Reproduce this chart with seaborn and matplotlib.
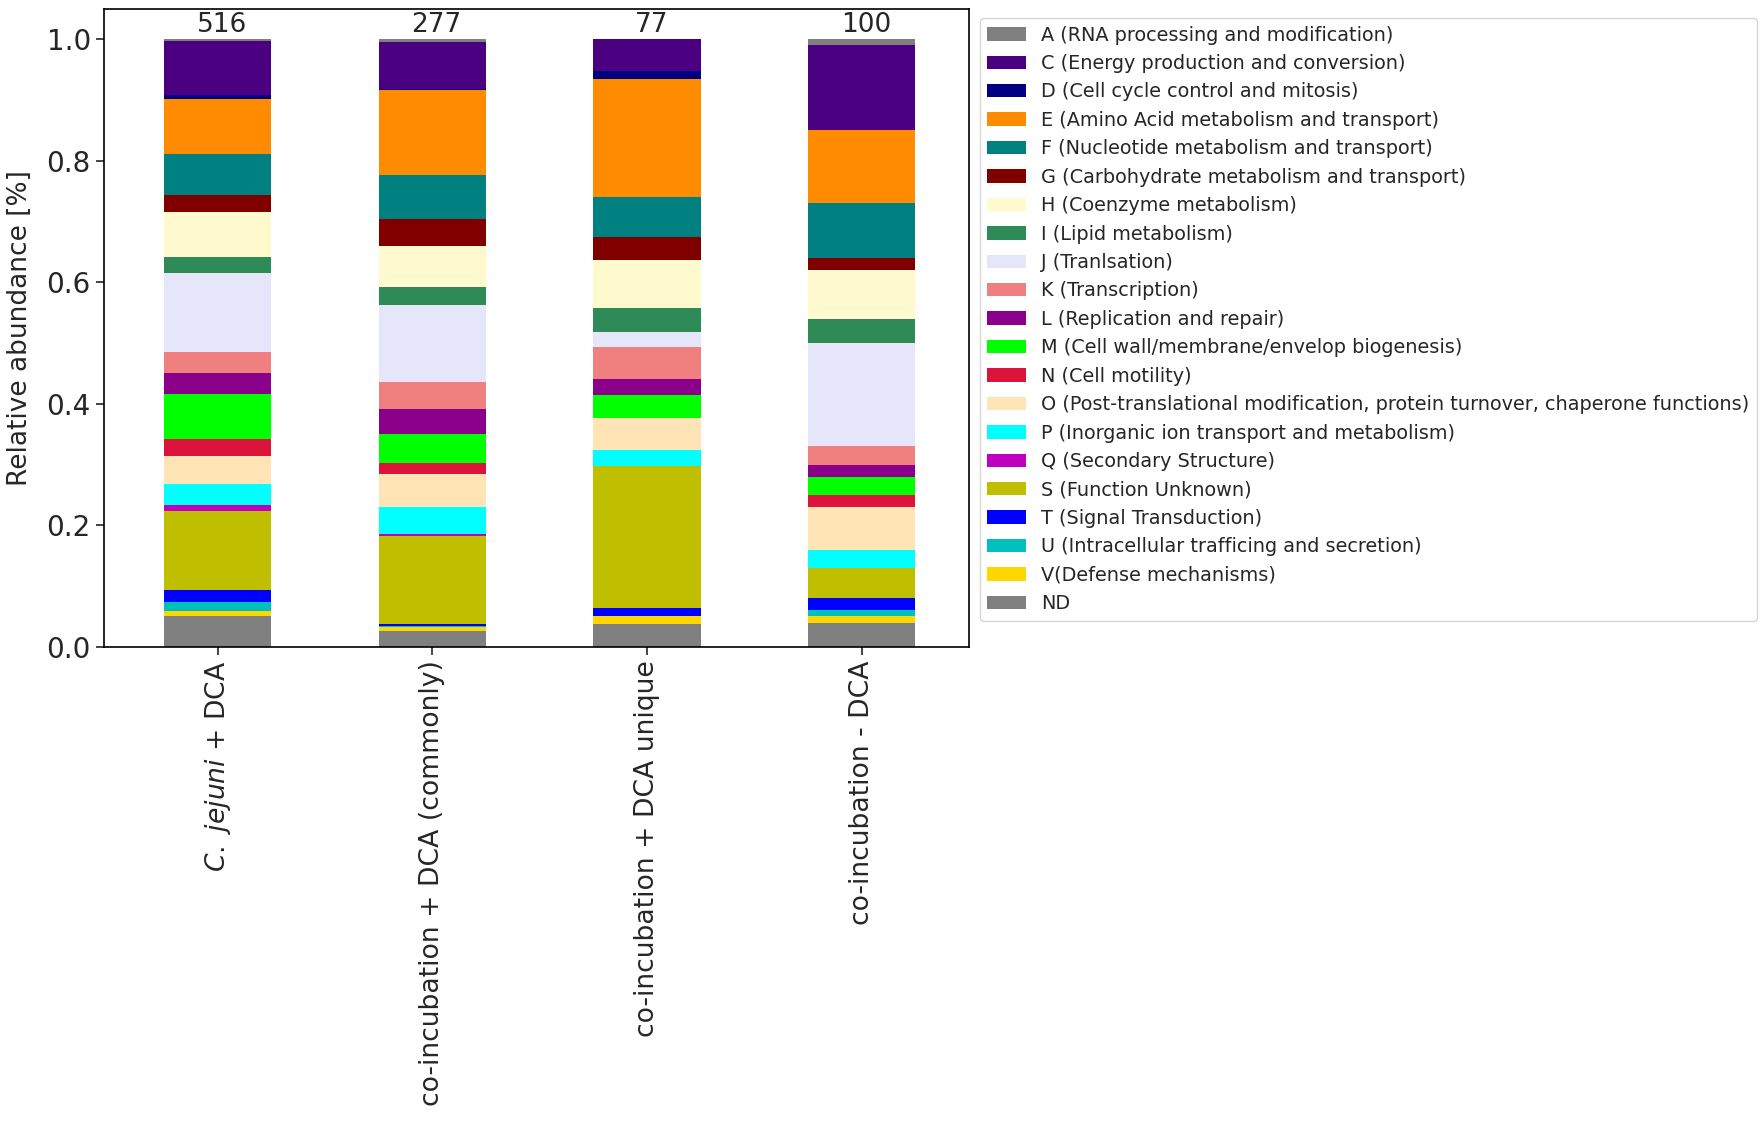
import matplotlib
matplotlib.use("Agg")
import matplotlib.pyplot as plt
import pandas as pd
import seaborn as sns

# ── Data ──────────────────────────────────────────────────────────────────
samples = [
    "C. jejuni + DCA",
    "co-incubation + DCA (commonly)",
    "co-incubation + DCA unique",
    "co-incubation - DCA",
]
tick_labels = [
    r"$\it{C.\ jejuni}$ + DCA",
    "co-incubation + DCA (commonly)",
    "co-incubation + DCA unique",
    "co-incubation - DCA",
]
totals = [516, 277, 77, 100]

categories = [
    "A (RNA processing and modification)",
    "C (Energy production and conversion)",
    "D (Cell cycle control and mitosis)",
    "E (Amino Acid metabolism and transport)",
    "F (Nucleotide metabolism and transport)",
    "G (Carbohydrate metabolism and transport)",
    "H (Coenzyme metabolism)",
    "I (Lipid metabolism)",
    "J (Tranlsation)",
    "K (Transcription)",
    "L (Replication and repair)",
    "M (Cell wall/membrane/envelop biogenesis)",
    "N (Cell motility)",
    "O (Post-translational modification, protein turnover, chaperone functions)",
    "P (Inorganic ion transport and metabolism)",
    "Q (Secondary Structure)",
    "S (Function Unknown)",
    "T (Signal Transduction)",
    "U (Intracellular trafficing and secretion)",
    "V(Defense mechanisms)",
    "ND",
]
colors = [
    "grey", "indigo", "navy", "darkorange", "teal", "maroon", "lemonchiffon",
    "seagreen", "lavender", "lightcoral", "darkmagenta", "lime", "crimson",
    "moccasin", "cyan", "m", "y", "blue", "c", "gold", "grey",
]

# relative abundance per category (same order as categories), one list per sample
cj_dca = [0.002, 0.090, 0.006, 0.090, 0.069, 0.027, 0.074, 0.027, 0.130, 0.035,
          0.034, 0.074, 0.028, 0.046, 0.035, 0.009, 0.130, 0.020, 0.015, 0.009, 0.050]
co_dca_common = [0.004, 0.077, 0.002, 0.141, 0.072, 0.044, 0.068, 0.029, 0.127, 0.044,
                 0.042, 0.048, 0.018, 0.054, 0.044, 0.003, 0.145, 0.004, 0.002, 0.006, 0.026]
co_dca_unique = [0.0, 0.052, 0.013, 0.195, 0.065, 0.039, 0.078, 0.039, 0.026, 0.052,
                 0.026, 0.039, 0.0, 0.052, 0.026, 0.0, 0.234, 0.013, 0.0, 0.013, 0.038]
co_no_dca = [0.01, 0.14, 0.0, 0.12, 0.09, 0.02, 0.08, 0.04, 0.17, 0.03,
             0.02, 0.03, 0.02, 0.07, 0.03, 0.0, 0.05, 0.02, 0.01, 0.01, 0.04]

rows = []
for sample, vals in zip(samples, [cj_dca, co_dca_common, co_dca_unique, co_no_dca]):
    for cat, v in zip(categories, vals):
        rows.append({"sample": sample, "category": cat, "value": v})
df = pd.DataFrame(rows)

# ── Plot ──────────────────────────────────────────────────────────────────
sns.set_style("ticks")
plt.rcParams["font.family"] = ["DejaVu Sans"]
plt.rcParams["mathtext.fontset"] = "dejavusans"

fig = plt.figure(figsize=(17.62, 11.21), dpi=100)
ax = fig.add_axes([0.059, 0.423, 0.491, 0.569])

sns.histplot(
    data=df, x="sample", weights="value", hue="category",
    hue_order=categories, palette=colors, multiple="stack",
    discrete=True, shrink=0.5, alpha=1, linewidth=0, ax=ax,
)

for i, n in enumerate(totals):
    ax.text(i + 0.02, 1.003, str(n), ha="center", va="bottom", fontsize=19)

ax.set_xlim(-0.53, 3.5)
ax.set_ylim(0, 1.05)
ax.set_xticks(range(len(samples)))
ax.set_xticklabels(tick_labels, rotation=90, fontsize=19.2)
ax.set_yticks([0.0, 0.2, 0.4, 0.6, 0.8, 1.0])
ax.set_yticklabels(["0.0", "0.2", "0.4", "0.6", "0.8", "1.0"], fontsize=20)
ax.tick_params(length=6, width=1.2)
ax.set_xlabel("")
ax.set_ylabel("Relative abundance [%]", fontsize=19, labelpad=10)
for s in ax.spines.values():
    s.set_linewidth(1.2)
    s.set_color("black")

sns.move_legend(
    ax, "upper left", bbox_to_anchor=(0.556, 0.984),
    bbox_transform=fig.transFigure, title=None, fontsize=13.85,
    frameon=True, handlelength=2.0, labelspacing=0.49, borderaxespad=0,
)

plt.savefig("out.png", dpi=100)
